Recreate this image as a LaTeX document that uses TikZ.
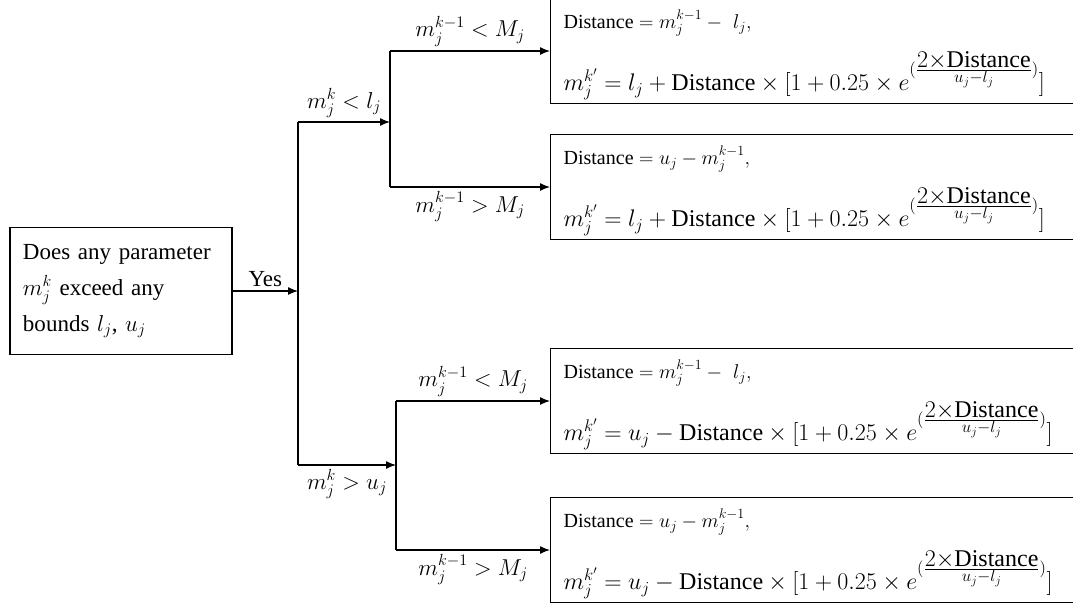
\RequirePackage{fix-cm}
\documentclass[tikz,border=0pt]{standalone}
\usepackage{amsmath}
\usepackage{fontspec}
\setmainfont{Liberation Serif}
\usetikzlibrary{arrows.meta, positioning}
\newcommand{\expfac}{e^{(\frac{\textstyle 2{\times}\text{Distance}}{\scriptstyle u_j-l_j})}}
\newcommand{\smallline}{\fontsize{20}{24}\selectfont}
\newcommand{\bigline}{\fontsize{24}{28}\selectfont}
\newcommand{\queryfont}{\fontsize{23}{36}\selectfont}
\newcommand{\topstrut}{\rule{0pt}{26pt}}
\tikzset{
  flowline/.style={line width=1.3pt, -{Latex[length=10pt,width=8pt]}},
  trunkline/.style={line width=1.3pt},
  querybox/.style={draw, line width=1.3pt, align=left, text width=196pt, inner xsep=13pt,
    minimum height=127pt, font=\queryfont},
  resbox/.style={draw, line width=1.3pt, anchor=west, align=left, text width=512pt,
    inner xsep=13pt, minimum height=104pt, font=\smallline},
  branchlbl/.style={font=\fontsize{23}{26}\selectfont, inner sep=4pt}
}

\begin{document}
\begin{tikzpicture}[x=1pt, y=-1pt]
			\clip (0,0) rectangle (1073,604);
			% question box
			\node[querybox] (query) at (121,291) {Does any parameter\\ $m_j^k$ exceed any\\ bounds $l_j$, $u_j$};
			% junction points
			\coordinate (fork) at (298,291);
			\coordinate (forkhi) at (298,122);
			\coordinate (forklo) at (298,465);
			\coordinate (uphi) at (390,122);
			\coordinate (uptop) at (390,51);
			\coordinate (upbot) at (390,187);
			\coordinate (lohi) at (396,465);
			\coordinate (lotop) at (396,401);
			\coordinate (lobot) at (396,550);
			% result boxes (cut off at the right)
			\node[resbox] (res1) at (550,51) {\topstrut$\text{Distance} = m_j^{k-1} -\ l_j,$\\[14pt]
				{\bigline$m_j^{k'} = l_j + \text{Distance}\times[1+0.25\times \expfac]$}};
			\node[resbox] (res2) at (550,187) {\topstrut$\text{Distance} = u_j - m_j^{k-1},$\\[14pt]
				{\bigline$m_j^{k'} = l_j + \text{Distance}\times[1+0.25\times \expfac]$}};
			\node[resbox] (res3) at (550,401) {\topstrut$\text{Distance} = m_j^{k-1} -\ l_j,$\\[14pt]
				{\bigline$m_j^{k'} = u_j - \text{Distance}\times[1+0.25\times \expfac]$}};
			\node[resbox] (res4) at (550,550) {\topstrut$\text{Distance} = u_j - m_j^{k-1},$\\[14pt]
				{\bigline$m_j^{k'} = u_j - \text{Distance}\times[1+0.25\times \expfac]$}};
			% connectors
			\draw[flowline] (query) -- node[above,branchlbl] {Yes} (fork);
			\draw[trunkline] (forkhi) -- (forklo);
			\draw[flowline] (forkhi) -- node[above,branchlbl] {$m_j^k < l_j$} (uphi);
			\draw[flowline] (forklo) -- node[below,branchlbl] {$m_j^k > u_j$} (lohi);
			\draw[trunkline] (uptop) -- (upbot);
			\draw[trunkline] (lotop) -- (lobot);
			\draw[flowline] (uptop) -- node[above,branchlbl] {$m_j^{k-1} < M_j$} (res1.west);
			\draw[flowline] (upbot) -- node[below,branchlbl] {$m_j^{k-1} > M_j$} (res2.west);
			\draw[flowline] (lotop) -- node[above,branchlbl] {$m_j^{k-1} < M_j$} (res3.west);
			\draw[flowline] (lobot) -- node[below,branchlbl] {$m_j^{k-1} > M_j$} (res4.west);
		\end{tikzpicture}
\end{document}
